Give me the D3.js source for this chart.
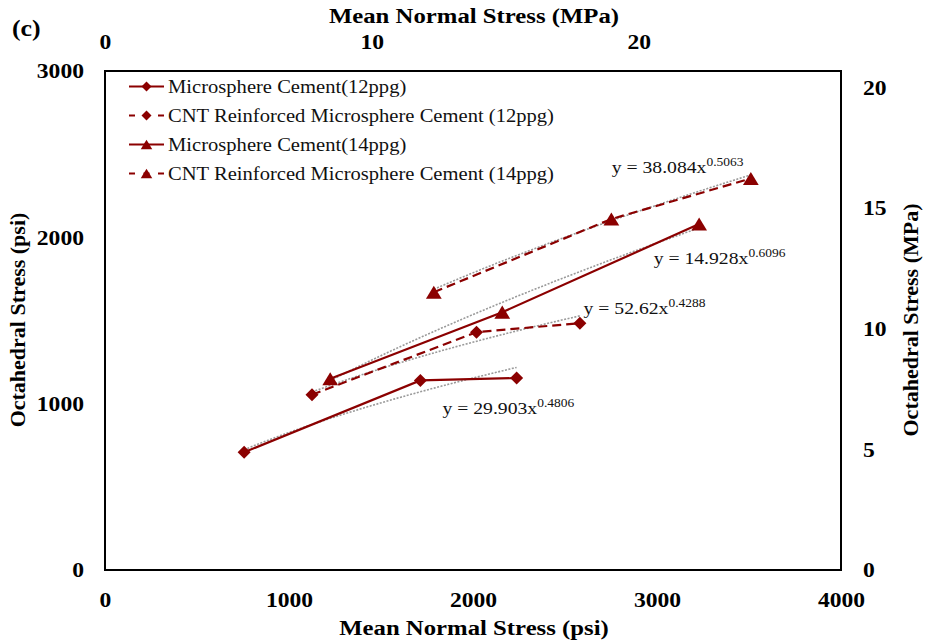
<!DOCTYPE html>
<html>
<head>
<meta charset="utf-8">
<script src="https://cdn.jsdelivr.net/npm/d3@7"></script>
<style>
  html, body { margin: 0; padding: 0; background: #fff; }
  svg { display: block; }
  text { font-family: "Liberation Serif", "Times New Roman", serif; }
</style>
</head>
<body>
<svg id="chart" width="925" height="643"></svg>
<script>
// ---------------- DATA ----------------
const seriesNames = [
  "Microsphere Cement(12ppg)",
  "CNT Reinforced Microsphere Cement (12ppg)",
  "Microsphere Cement(14ppg)",
  "CNT Reinforced Microsphere Cement (14ppg)"
];
// Mean normal stress (psi) / octahedral stress (psi)
const mc12X  = [756, 1714, 2237];
const mc12Y  = [708, 1140, 1154];
const cnt12X = [1125, 2019, 2581];
const cnt12Y = [1054, 1430, 1484];
const mc14X  = [1224, 2159, 3229];
const mc14Y  = [1150, 1550, 2080];
const cnt14X = [1787, 2752, 3510];
const cnt14Y = [1670, 2110, 2354];
// Power trendline coefficients y = a x^b (as printed on the chart)
const trendA = [29.903, 52.62, 14.928, 38.084];
const trendB = [0.4806, 0.4288, 0.6096, 0.5063];
const trendLabelA = ["29.903", "52.62", "14.928", "38.084"];
const trendLabelB = ["0.4806", "0.4288", "0.6096", "0.5063"];
// Axis ticks
const xTicksPsi = [0, 1000, 2000, 3000, 4000];
const yTicksPsi = [0, 1000, 2000, 3000];
const xTicksMPa = [0, 10, 20];
const yTicksMPa = [0, 5, 10, 15, 20];
const PSI_PER_MPA = 145.038;

// ---------------- LAYOUT ----------------
const svg = d3.select("#chart");
const plot = { left: 105, right: 841, top: 71, bottom: 570 };
const color = "#8B0000";
const SX = 1.125; // horizontal stretch of the original figure's text
const markers = ["diamond", "diamond", "triangle", "triangle"];
const dashed = [false, true, false, true];
// label anchors in data units (psi)
const labelPos = [[1834, 936], [2601, 1542], [2982, 1842], [2754, 2388]];

const x = d3.scaleLinear().domain([0, 4000]).range([plot.left, plot.right]);
const y = d3.scaleLinear().domain([0, 3000]).range([plot.bottom, plot.top]);
const xM = d3.scaleLinear().domain([0, 4000 / PSI_PER_MPA]).range([plot.left, plot.right]);
const yM = d3.scaleLinear().domain([0, 3000 / PSI_PER_MPA]).range([plot.bottom, plot.top]);

function styleAxis(g) {
  g.select(".domain").remove();
  g.selectAll("line").remove();
  g.selectAll("text")
    .attr("font-size", "21px")
    .attr("font-weight", "bold")
    .attr("fill", "#000")
    .attr("transform", `scale(${SX},1)`);
}

svg.append("g").attr("transform", `translate(0,${plot.bottom + 22})`)
  .call(d3.axisBottom(x).tickValues(xTicksPsi).tickSize(0).tickPadding(0).tickFormat(d3.format("d")))
  .call(styleAxis);
svg.append("g").attr("transform", `translate(${plot.left - 21},0)`)
  .call(d3.axisLeft(y).tickValues(yTicksPsi).tickSize(0).tickPadding(0).tickFormat(d3.format("d")))
  .call(styleAxis);
svg.append("g").attr("transform", `translate(0,${plot.top - 22})`)
  .call(d3.axisTop(xM).tickValues(xTicksMPa).tickSize(0).tickPadding(0).tickFormat(d3.format("d")))
  .call(styleAxis);
svg.append("g").attr("transform", `translate(${plot.right + 22},0)`)
  .call(d3.axisRight(yM).tickValues(yTicksMPa).tickSize(0).tickPadding(0).tickFormat(d3.format("d")))
  .call(styleAxis);

// Axis titles
const titleStyle = sel => sel.attr("font-size", "22px").attr("font-weight", "bold").attr("fill", "#000").attr("text-anchor", "middle");
svg.append("text").attr("transform", `translate(474,635) scale(${SX},1)`).text("Mean Normal Stress  (psi)").call(titleStyle);
svg.append("text").attr("transform", `translate(474,23) scale(${SX},1)`).text("Mean Normal Stress  (MPa)").call(titleStyle);
svg.append("text").attr("transform", "translate(25,320) rotate(-90)").text("Octahedral Stress (psi)").call(titleStyle);
svg.append("text").attr("transform", "translate(918,320) rotate(-90)").text("Octahedral Stress (MPa)").call(titleStyle);
svg.append("text").attr("transform", `translate(12,36) scale(${SX},1)`)
  .attr("font-size", "23px").attr("font-weight", "bold").text("(c)");

// Plot frame
svg.append("rect")
  .attr("x", plot.left).attr("y", plot.top)
  .attr("width", plot.right - plot.left).attr("height", plot.bottom - plot.top)
  .attr("fill", "none").attr("stroke", "#000").attr("stroke-width", 2);

const series = [
  { xs: mc12X, ys: mc12Y },
  { xs: cnt12X, ys: cnt12Y },
  { xs: mc14X, ys: mc14Y },
  { xs: cnt14X, ys: cnt14Y }
].map((s, i) => ({
  name: seriesNames[i],
  pts: s.xs.map((v, j) => [v, s.ys[j]]),
  marker: markers[i], dashed: dashed[i], a: trendA[i], b: trendB[i]
}));

function markerPath(type, s) {
  if (type === "diamond") {
    return `M0,${-s}L${s},0L0,${s}L${-s},0Z`;
  }
  const h = s * 1.75, w = s * 1.05;
  return `M0,${-h / 2}L${w},${h / 2}L${-w},${h / 2}Z`;
}

const line = d3.line().x(d => x(d[0])).y(d => y(d[1]));

// Trendlines (power fits, drawn from the printed equations)
series.forEach(s => {
  const xmin = d3.min(s.pts, d => d[0]), xmax = d3.max(s.pts, d => d[0]);
  const xs = d3.range(0, 41).map(k => xmin + (xmax - xmin) * k / 40);
  svg.append("path")
    .attr("d", line(xs.map(v => [v, s.a * Math.pow(v, s.b)])))
    .attr("fill", "none").attr("stroke", "#9a9a9a").attr("stroke-width", 1.6)
    .attr("stroke-dasharray", "2,1.5");
});

// Series lines + markers
series.forEach(s => {
  svg.append("path")
    .attr("d", line(s.pts))
    .attr("fill", "none").attr("stroke", color).attr("stroke-width", 2.2)
    .attr("stroke-dasharray", s.dashed ? "9,5" : null);
  svg.selectAll(null).data(s.pts).enter().append("path")
    .attr("transform", d => `translate(${x(d[0])},${y(d[1])})`)
    .attr("d", markerPath(s.marker, s.marker === "diamond" ? 6.5 : 7.5))
    .attr("fill", color);
});

// Trendline equations
labelPos.forEach((p, i) => {
  const t = svg.append("text")
    .attr("transform", `translate(${x(p[0])},${y(p[1])}) scale(${SX},1)`)
    .attr("font-size", "17.5px").attr("fill", "#111");
  t.append("tspan").text(`y = ${trendLabelA[i]}x`);
  t.append("tspan").attr("dy", -7).attr("font-size", "12px").text(trendLabelB[i]);
});

// Legend
const legY = [86.5, 115.5, 144.5, 173.5];
series.forEach((s, i) => {
  const g = svg.append("g").attr("transform", `translate(0,${legY[i]})`);
  g.append("line").attr("x1", 129).attr("x2", 164).attr("y1", 0).attr("y2", 0)
    .attr("stroke", color).attr("stroke-width", 2)
    .attr("stroke-dasharray", s.dashed ? "6,8.5" : null);
  g.append("path").attr("transform", "translate(146.5,0)")
    .attr("d", markerPath(s.marker, s.marker === "diamond" ? 5 : 5.5)).attr("fill", color);
  g.append("text").attr("transform", `translate(168,6.5) scale(${SX},1)`)
    .attr("font-size", "18.3px").attr("fill", "#111").text(s.name);
});
</script>
</body>
</html>
